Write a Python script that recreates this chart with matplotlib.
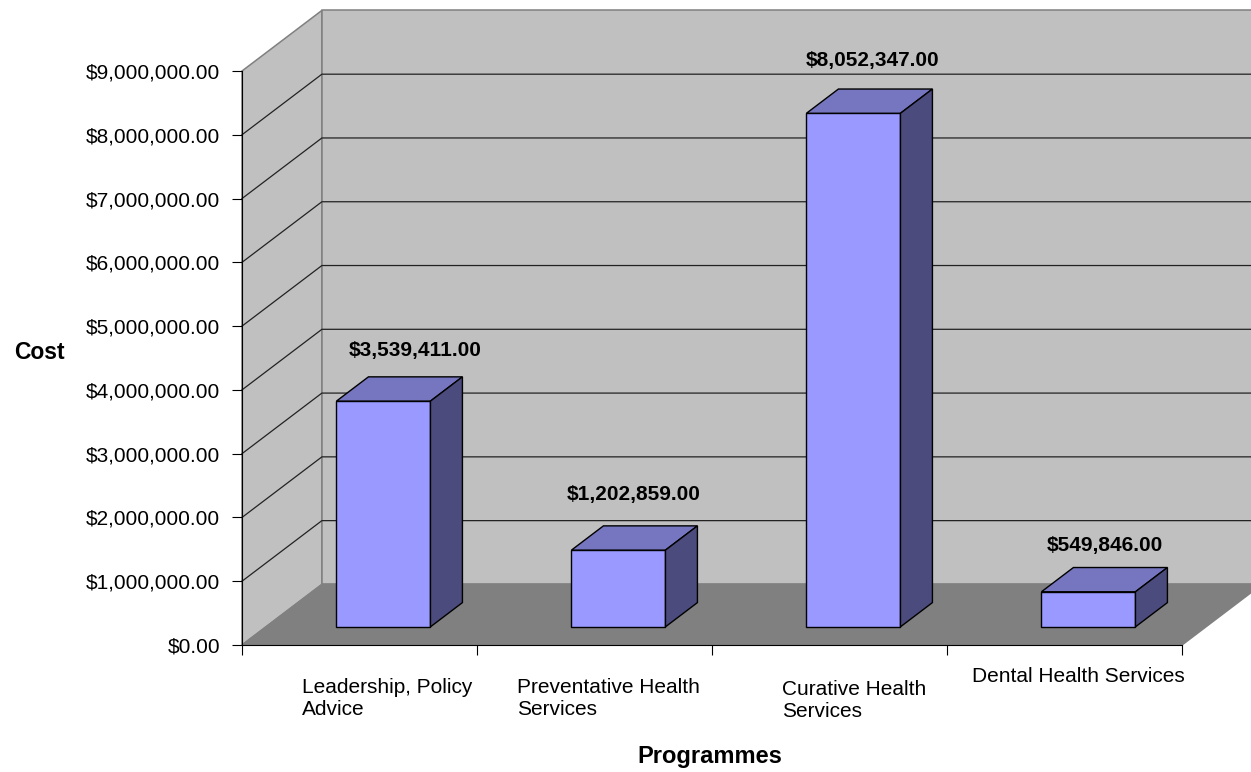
import numpy as np
import matplotlib
matplotlib.use("Agg")
import matplotlib.pyplot as plt
from matplotlib.patches import Polygon
from matplotlib.ticker import FuncFormatter

# data
programmes = ["Leadership, Policy\nAdvice", "Preventative Health\nServices",
              "Curative Health\nServices", "Dental Health Services"]
costs = [3539411.00, 1202859.00, 8052347.00, 549846.00]
y_ticks = np.arange(0, 9000001, 1000000)

# fake 3d look (oblique projection): depth offset in data units
DX = 0.34
DY = 0.95e6
WALL = '#C0C0C0'
FLOOR = '#808080'
FRONT = '#9999FF'
TOP = '#7676C0'
SIDE = '#4B4B7E'

plt.rcParams['font.family'] = ['Liberation Sans', 'DejaVu Sans']

fig = plt.figure(figsize=(12.51, 7.72), dpi=100)
W, H = 1251.0, 772.0
ax = fig.add_axes([242 / W, 127 / H, 940 / W, 574 / H])
ax.set_xlim(0, 4)
ax.set_ylim(0, 9e6)
ax.patch.set_visible(False)
ymax = 9e6


def proj(x, y, z):
    return (x + z * DX, y + z * DY)


def poly(pts, fc, ec, lw, zo):
    p = Polygon(pts, closed=True, facecolor=fc, edgecolor=ec, linewidth=lw,
                zorder=zo, clip_on=False, joinstyle='miter')
    ax.add_patch(p)


# walls and floor
poly([proj(0, 0, 0), proj(0, ymax, 0), proj(0, ymax, 1), proj(0, 0, 1)], WALL, FLOOR, 1.1, 1)
poly([proj(0, 0, 1), proj(0, ymax, 1), proj(4, ymax, 1), proj(4, 0, 1)], WALL, FLOOR, 1.1, 1)
poly([proj(0, 0, 0), proj(0, 0, 1), proj(4, 0, 1), proj(4, 0, 0)], FLOOR, FLOOR, 1.1, 2)

# gridlines on left wall and back wall
for v in y_ticks[1:-1]:
    xs = [proj(0, v, 0)[0], proj(0, v, 1)[0], proj(4, v, 1)[0]]
    ys = [proj(0, v, 0)[1], proj(0, v, 1)[1], proj(4, v, 1)[1]]
    ax.plot(xs, ys, color='#222222', lw=0.9, zorder=1.5, clip_on=False)

# bars
label_dx = [16, -1, 3, 0]
label_dy = [21, 26, 23, 17]
z0, z1 = 0.3, 0.7
for i, v in enumerate(costs):
    x0, x1 = i + 0.3, i + 0.7
    poly([proj(x0, 0, z0), proj(x1, 0, z0), proj(x1, v, z0), proj(x0, v, z0)], FRONT, 'black', 1.0, 5)
    poly([proj(x0, v, z0), proj(x1, v, z0), proj(x1, v, z1), proj(x0, v, z1)], TOP, 'black', 1.0, 5)
    poly([proj(x1, 0, z0), proj(x1, 0, z1), proj(x1, v, z1), proj(x1, v, z0)], SIDE, 'black', 1.0, 5)
    anchor = (proj(i + 0.5, v, 0.5)[0], proj(i + 0.5, v, z1)[1])
    ax.annotate("${:,.2f}".format(v), xy=anchor, xytext=(label_dx[i], label_dy[i]),
                textcoords='offset pixels', ha='center', va='baseline',
                fontsize=15, fontweight='bold', annotation_clip=False, zorder=6)

# axes
for s in ['top', 'right']:
    ax.spines[s].set_visible(False)
for s in ['left', 'bottom']:
    ax.spines[s].set_linewidth(0.8)
    ax.spines[s].set_zorder(7)
ax.set_yticks(y_ticks)
ax.yaxis.set_major_formatter(FuncFormatter(lambda v, p: "${:,.2f}".format(v)))
ax.set_xticks(np.arange(0, 5))
ax.set_xticklabels([])
ax.tick_params(axis='both', direction='out', length=7.2, width=0.8, labelsize=15, pad=8.5)

# category labels (Excel places them a bit oddly)
lab_x = [0.255, 0.17, 0.298, 0.106]
lab_y = [-70, -70, -72, -37]
for i, name in enumerate(programmes):
    ax.annotate(name, xy=(i + lab_x[i], 0), xytext=(0, lab_y[i]), textcoords='offset pixels',
                ha='left', va='baseline', fontsize=15, linespacing=1.23,
                multialignment='left', annotation_clip=False)

fig.text(39 / W, 1 - 352 / H, "Cost", ha='center', va='center', fontsize=16.5, fontweight='bold')
fig.text(710 / W, 1 - 757 / H, "Programmes", ha='center', va='center', fontsize=17, fontweight='bold')

plt.savefig("out.png", dpi=100)
